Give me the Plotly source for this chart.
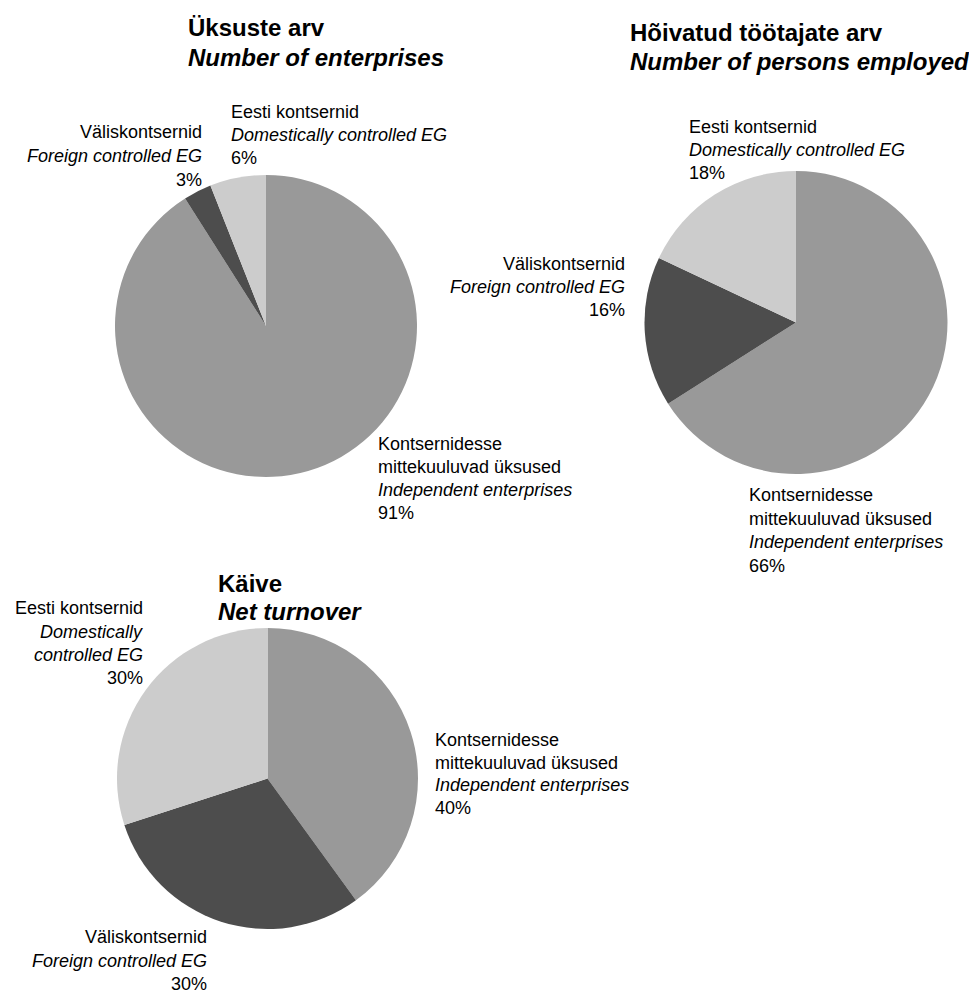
import plotly.graph_objects as go

W, H = 969, 990

# ---- data ----
categories = ["Independent", "Foreign", "Domestic"]
colors = ["#999999", "#4d4d4d", "#cccccc"]

enterprises_values = [91, 3, 6]
employed_values = [66, 16, 18]
turnover_values = [40, 30, 30]

label_et = {
    "Independent": ["Kontsernidesse", "mittekuuluvad üksused"],
    "Foreign": ["Väliskontsernid"],
    "Domestic": ["Eesti kontsernid"],
}
label_en = {
    "Independent": ["Independent enterprises"],
    "Foreign": ["Foreign controlled EG"],
    "Domestic": ["Domestically controlled EG"],
}
label_en_turnover_domestic = ["Domestically", "controlled EG"]

titles_et = ["Üksuste arv", "Hõivatud töötajate arv", "Käive"]
titles_en = ["Number of enterprises", "Number of persons employed", "Net turnover"]

FONT = "Liberation Sans, Arial, sans-serif"
LABEL_SIZE = 18
TITLE_SIZE = 24

fig = go.Figure()

def px_dom(x0, x1, y0, y1):
    return dict(x=[x0 / W, x1 / W], y=[1 - y1 / H, 1 - y0 / H])

pies = [
    (enterprises_values, px_dom(115, 417, 175, 477)),
    (employed_values, px_dom(644, 948, 171, 474)),
    (turnover_values, px_dom(117, 418, 628, 929)),
]
for vals, dom in pies:
    fig.add_trace(go.Pie(
        labels=categories, values=vals, sort=False, direction="clockwise",
        rotation=0, marker=dict(colors=colors, line=dict(width=0)),
        textinfo="none", hoverinfo="label+percent", showlegend=False,
        domain=dom,
    ))

annotations = []

def add_line(text, x, y, anchor, size=LABEL_SIZE, bold=False):
    if bold:
        text = "<b>" + text + "</b>"
    annotations.append(dict(
        text=text, x=x / W, y=1 - y / H, xref="paper", yref="paper",
        xanchor=anchor, yanchor="middle", showarrow=False,
        font=dict(family=FONT, size=size, color="#000000"),
    ))

def add_block(cat, value, x, y0, step, anchor, en_lines=None):
    lines = list(label_et[cat]) + ["<i>" + t + "</i>" for t in (en_lines or label_en[cat])] + [f"{value}%"]
    for i, t in enumerate(lines):
        add_line(t, x, y0 + i * step, anchor)

# titles
add_line(titles_et[0], 186, 28, "left", TITLE_SIZE, True)
add_line("<i>" + titles_en[0] + "</i>", 186, 57, "left", TITLE_SIZE, True)
add_line(titles_et[1], 628, 33, "left", TITLE_SIZE, True)
add_line("<i>" + titles_en[1] + "</i>", 628, 62, "left", TITLE_SIZE, True)
add_line(titles_et[2], 216, 583, "left", TITLE_SIZE, True)
add_line("<i>" + titles_en[2] + "</i>", 216, 611, "left", TITLE_SIZE, True)

# chart 1 labels
add_block("Independent", enterprises_values[0], 376, 444, 23, "left")
add_block("Foreign", enterprises_values[1], 204, 132, 24, "right")
add_block("Domestic", enterprises_values[2], 229, 112, 23, "left")

# chart 2 labels
add_block("Independent", employed_values[0], 747, 495, 23.5, "left")
add_block("Foreign", employed_values[1], 627, 264, 23, "right")
add_block("Domestic", employed_values[2], 687, 127, 23, "left")

# chart 3 labels
add_block("Independent", turnover_values[0], 433, 740, 22.5, "left")
add_block("Foreign", turnover_values[1], 209, 937, 23.5, "right")
add_line(label_et["Domestic"][0], 13, 608, "left")
for i, t in enumerate(["<i>" + s + "</i>" for s in label_en_turnover_domestic] + [f"{turnover_values[2]}%"]):
    add_line(t, 145, 632 + i * 23, "right")

fig.update_layout(
    width=W, height=H,
    margin=dict(l=0, r=0, t=0, b=0),
    paper_bgcolor="white", plot_bgcolor="white",
    annotations=annotations,
    font=dict(family=FONT),
)

fig.write_html("out.html", config={"displayModeBar": False},
               post_script="document.body.style.margin='0px';")
